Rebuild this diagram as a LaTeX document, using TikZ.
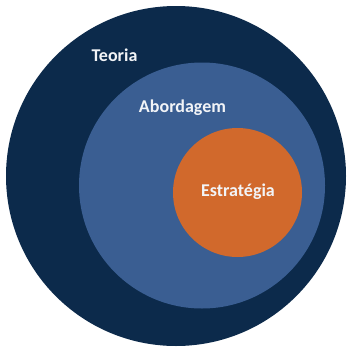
\documentclass[tikz,border=0pt]{standalone}
\usepackage{fontspec}
\setmainfont{Carlito}
\usepackage{tikz}
\usetikzlibrary{positioning}
\definecolor{navy}{HTML}{0C2A4B}
\definecolor{midblue}{HTML}{3A5E92}
\definecolor{rust}{HTML}{D1692C}
\definecolor{paper}{HTML}{F2F4F7}

\begin{document}
\begin{tikzpicture}
[x=1pt, y=-1pt,
    every node/.style={inner sep=0pt, outer sep=0pt},
    disc/.style={circle, draw=none},
    lbl/.style={text=paper, font=\fontsize{18}{20}\selectfont\bfseries}]
    \useasboundingbox (0,0) rectangle (346,348);
    \node[disc, fill=navy, minimum size=340pt] (teoria) at (176,176) {};
    \node[disc, fill=midblue, minimum size=246pt] (abordagem) at (202,185.5) {};
    \node[disc, fill=rust, minimum size=129pt] (estrategia) at (237.5,192.5) {};
    \node[lbl] (teoriaText) at (114.5,55) {Teoria};
    \node[lbl] (abordagemText) at (182.5,108) {Abordagem};
    \node[lbl] (estrategiaText) at (238,192) {Estratégia};
\end{tikzpicture}
\end{document}
